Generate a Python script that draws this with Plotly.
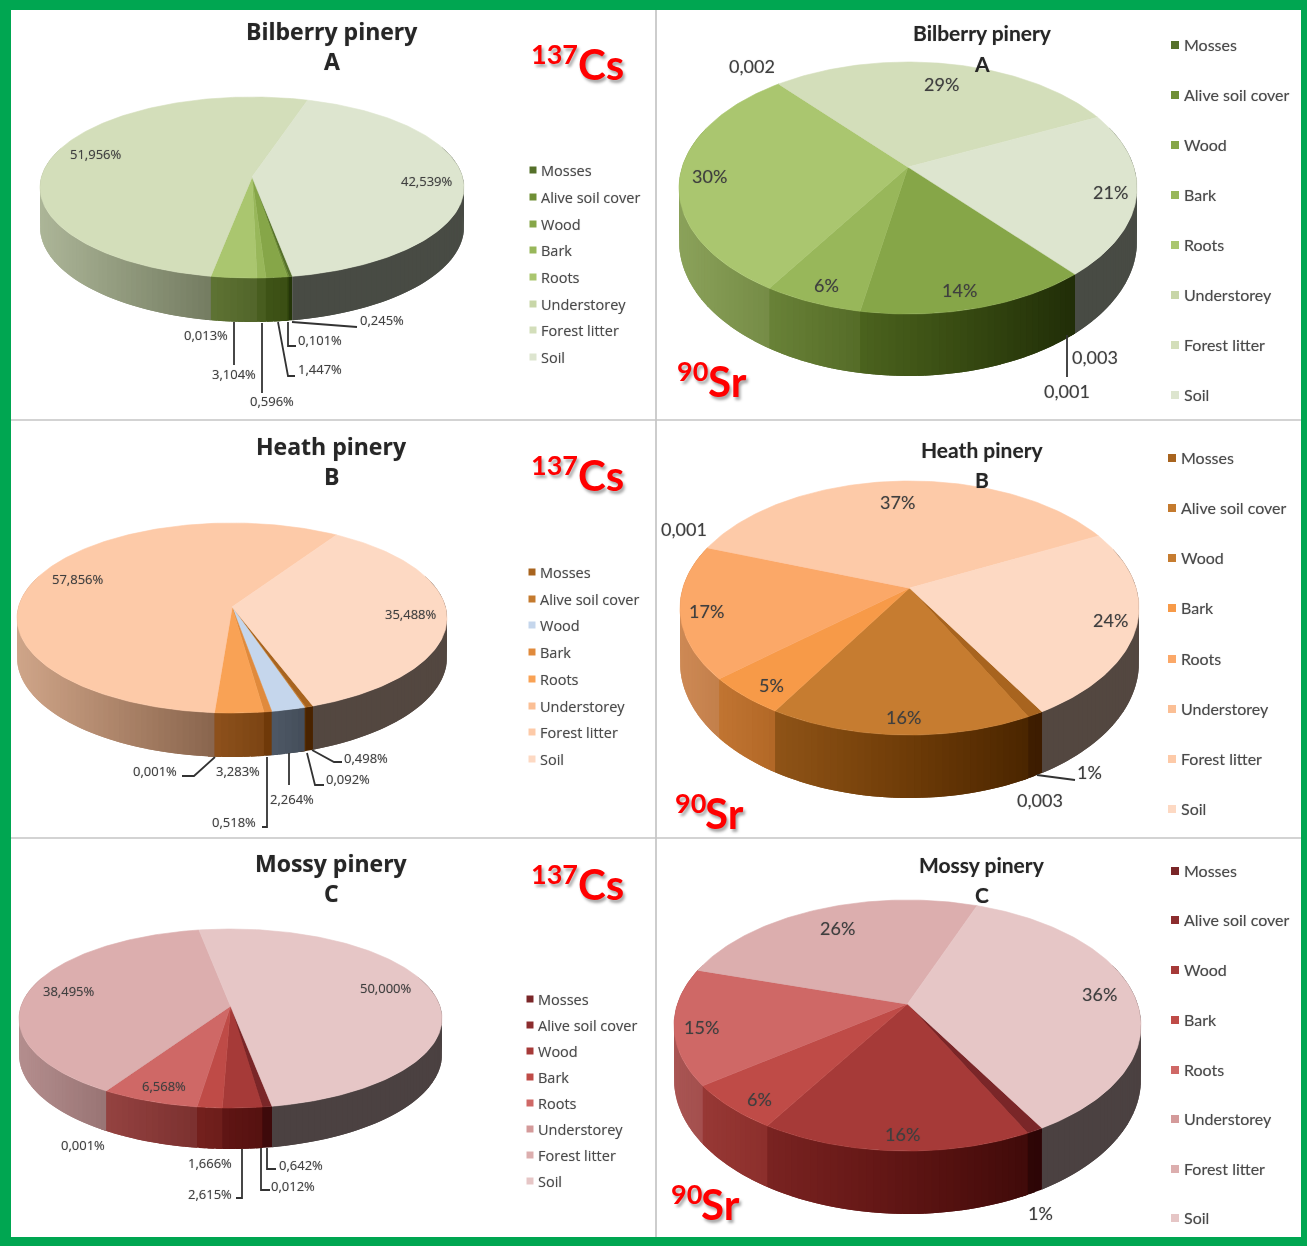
import numpy as np
import plotly.graph_objects as go

categories = ["Mosses", "Alive soil cover", "Wood", "Bark", "Roots", "Understorey", "Forest litter", "Soil"]

# Shares in percent, in category order
bilberry_cs = [0.245, 0.101, 1.447, 0.596, 3.104, 0.013, 51.956, 42.539]
bilberry_sr = [0.003, 0.001, 14, 6, 30, 0.002, 29, 21]
heath_cs = [0.498, 0.092, 2.264, 0.518, 3.283, 0.001, 57.856, 35.488]
heath_sr = [1, 0.003, 16, 5, 17, 0.001, 37, 24]
mossy_cs = [0.642, 0.012, 2.615, 1.666, 6.568, 0.001, 38.495, 50.000]
mossy_sr = [1, 0.001, 16, 6, 15, 0.001, 26, 36]

bilberry_cs_labels = ["0,245%", "0,101%", "1,447%", "0,596%", "3,104%", "0,013%", "51,956%", "42,539%"]
bilberry_sr_labels = ["0,003", "0,001", "14%", "6%", "30%", "0,002", "29%", "21%"]
heath_cs_labels = ["0,498%", "0,092%", "2,264%", "0,518%", "3,283%", "0,001%", "57,856%", "35,488%"]
heath_sr_labels = ["1%", "0,003", "16%", "5%", "17%", "0,001", "37%", "24%"]
mossy_cs_labels = ["0,642%", "0,012%", "2,615%", "1,666%", "6,568%", "0,001%", "38,495%", "50,000%"]
mossy_sr_labels = ["1%", "", "16%", "6%", "15%", "", "26%", "36%"]

GREEN = ["#55702a", "#6f8f35", "#86a648", "#98b75a", "#aac66f", "#c8d6a8", "#d3deba", "#dde5cf"]
ORANGE = ["#a8641f", "#c47a2e", "#c67c30", "#f79a48", "#fba868", "#fbbf95", "#fdcaa8", "#fdd9c3"]
ORANGE_B = ["#a8641f", "#c47a2e", "#c5d6ec", "#e08a3c", "#f9a255", "#fbbf95", "#fdcaa8", "#fdd9c3"]
RED = ["#7a2628", "#8c2d2e", "#a63a38", "#bf4b47", "#cf6866", "#d49a9a", "#dcaeae", "#e6c6c6"]

WIDE = "Open Sans, sans-serif"
SLIM = "Lato, sans-serif"
TXT = "#3f3f3f"
SHADOW = "0 0 1px rgba(60,60,60,.4)"

# Page layout of each panel: pie geometry, text positions, leader lines
panels = [
    dict(values=bilberry_cs, labels=bilberry_cs_labels, colors=GREEN, cx=252, rx=212, top=97, bottom=278, apex=177,
         depth=44, first_x=292.5, lab_xy=[(382, 320), (320, 340), (320, 369), (272, 401), (234, 374), (206, 335), (96, 154), (427, 181)],
         lab_size=13, font=WIDE, title=("Bilberry pinery", "A"), tx=332, ty=(31, 61), title_size=23,
         leg_x=533, leg_y=[170, 197, 224, 250, 277, 304, 330, 357], leg_size=14, iso="137", sym="Cs", iso_xy=(554, 53), sym_xy=(601, 64),
         leaders=[[(292, 322), (357, 327)], [(288, 322), (288, 346), (296, 346)], [(278, 322), (288, 376), (295, 376)],
                  [(262, 323), (262, 393)], [(234, 322), (234, 365)]]),
    dict(values=bilberry_sr, labels=bilberry_sr_labels, colors=GREEN, cx=908, rx=229, top=62, bottom=314, apex=167,
         depth=62, first_x=1075, lab_xy=[(1095, 357), (1067, 391), (959, 290), (826, 285), (709, 176), (752, 66), (941, 84), (1110, 192)],
         lab_size=18, font=SLIM, title=("Bilberry pinery", "A"), tx=982, ty=(32, 63), title_size=21,
         leg_x=1175, leg_y=[44, 94, 144, 194, 244, 294, 344, 394], leg_size=16, iso="90", sym="Sr", iso_xy=(692, 370), sym_xy=(727, 381),
         leaders=[[(1067, 335), (1067, 377)]]),
    dict(values=heath_cs, labels=heath_cs_labels, colors=ORANGE_B, cx=232, rx=215, top=523, bottom=713, apex=607,
         depth=44, first_x=313, lab_xy=[(366, 758), (348, 779), (292, 799), (234, 822), (238, 771), (155, 771), (78, 579), (411, 614)],
         lab_size=13, font=WIDE, title=("Heath pinery", "B"), tx=331, ty=(446, 476), title_size=23,
         leg_x=532, leg_y=[572, 599, 625, 652, 679, 706, 732, 759], leg_size=14, iso="137", sym="Cs", iso_xy=(554, 464), sym_xy=(601, 475),
         leaders=[[(312, 750), (334, 762), (342, 762)], [(307, 753), (315, 785), (324, 785)], [(289, 753), (289, 785)],
                  [(267, 757), (267, 827), (262, 827)], [(215, 757), (194, 776), (182, 776)]]),
    dict(values=heath_sr, labels=heath_sr_labels, colors=ORANGE, cx=909.5, rx=229.5, top=481, bottom=735, apex=588,
         depth=63, first_x=1042, lab_xy=[(1089, 772), (1040, 800), (903, 717), (771, 685), (706, 611), (684, 529), (897, 502), (1110, 620)],
         lab_size=18, font=SLIM, title=("Heath pinery", "B"), tx=982, ty=(449, 479), title_size=21,
         leg_x=1172, leg_y=[457, 507, 557, 607, 658, 708, 758, 808], leg_size=16, iso="90", sym="Sr", iso_xy=(690, 802), sym_xy=(724, 813),
         leaders=[[(1037, 775), (1075, 780)]]),
    dict(values=mossy_cs, labels=mossy_cs_labels, colors=RED, cx=230.5, rx=211.5, top=929, bottom=1108, apex=1006,
         depth=41, first_x=272, lab_xy=[(301, 1165), (293, 1186), (210, 1194), (210, 1163), (164, 1086), (83, 1145), (69, 991), (386, 988)],
         lab_size=13, font=WIDE, title=("Mossy pinery", "C"), tx=331, ty=(863, 893), title_size=23,
         leg_x=530, leg_y=[999, 1025, 1051, 1077, 1103, 1129, 1155, 1181], leg_size=14, iso="137", sym="Cs", iso_xy=(554, 873), sym_xy=(601, 884),
         leaders=[[(267, 1148), (267, 1169), (276, 1169)], [(261, 1148), (261, 1190), (270, 1190)], [(242, 1149), (242, 1198), (236, 1198)]]),
    dict(values=mossy_sr, labels=mossy_sr_labels, colors=RED, cx=907.5, rx=233.5, top=900, bottom=1151, apex=1004,
         depth=63, first_x=1042, lab_xy=[(1040, 1213), (0, 0), (902, 1134), (759, 1099), (701, 1027), (0, 0), (837, 928), (1099, 994)],
         lab_size=18, font=SLIM, title=("Mossy pinery", "C"), tx=982, ty=(864, 894), title_size=21,
         leg_x=1175, leg_y=[870, 919, 969, 1019, 1069, 1118, 1168, 1217], leg_size=16, iso="90", sym="Sr", iso_xy=(686, 1193), sym_xy=(720, 1204),
         leaders=[]),
]


def rgb(h):
    return np.array([int(h[i:i + 2], 16) for i in (1, 3, 5)], float)


def shade(h, f, boost=0.0):
    c = rgb(h) * f
    m = c.mean()
    c = np.clip(m + (c - m) * (1 + boost), 0, 255).astype(int)
    return f"rgb({c[0]},{c[1]},{c[2]})"


class Pose:
    """Perspective view of a flat disc: theta runs clockwise from 12 o'clock."""

    def __init__(self, p):
        d_top, d_bot = p["apex"] - p["top"], p["bottom"] - p["apex"]
        self.c = (d_bot - d_top) / (d_bot + d_top)
        self.a = d_top * (1 + self.c)
        self.k = p["rx"] * np.sqrt(1 - self.c ** 2)
        self.cx, self.ay, self.rx, self.depth = p["cx"], p["apex"], p["rx"], p["depth"]

    def rim(self, deg):
        th = np.radians(deg)
        u, v = np.sin(th), -np.cos(th)
        w = 1 - self.c * v
        return self.cx + self.k * u / w, self.ay + self.a * v / w, v, w

    def start(self, x):
        grid = np.linspace(90, 180, 3601)
        return grid[np.argmin(np.abs(self.rim(grid)[0] - x))]


fig = go.Figure()


def poly(xs, ys, color, line=True):
    fig.add_trace(go.Scatter(x=list(xs), y=list(ys), mode="lines" if line else "none", fill="toself", fillcolor=color,
                             line=dict(color=color, width=0.6), hoverinfo="skip", showlegend=False))


def text(x, y, s, size, font=SLIM, color=TXT, bold=False, anchor="center", sh=SHADOW):
    fig.add_annotation(x=x, y=y, xref="x", yref="y", text=f"<b>{s}</b>" if bold else s, showarrow=False,
                       xanchor=anchor, yanchor="middle", font=dict(family=font, size=size, color=color, shadow=sh))


for p in panels:
    pose = Pose(p)
    vals = np.array(p["values"], float)
    edges = pose.start(p["first_x"]) + np.concatenate([[0], np.cumsum(vals) / vals.sum() * 360])
    # side walls: strips overlap the next one so that no seams show
    for i, col in enumerate(p["colors"]):
        n = max(1, int((edges[i + 1] - edges[i]) / 1.5))
        th = np.linspace(edges[i], edges[i + 1], n + 1)
        for a, b in zip(th[:-1], th[1:]):
            far = b if i == 7 and b >= th[-1] - 1e-9 else b + 1.5
            x0, y0, v0, w0 = pose.rim(a)
            x1, y1, v1, w1 = pose.rim(far)
            if max(v0, v1) < -0.3:
                continue
            xm = pose.rim((a + b) / 2)[0]
            t = (xm - (pose.cx - pose.rx)) / (2 * pose.rx)
            if categories[i] == "Soil":
                f, boost = 0.33, 0.0
            else:
                f = max(0.82 - 0.68 * t, 0.24)
                boost = 1.2 * (0.82 - f)
            d0 = pose.depth * (1 - pose.c) / w0
            d1 = pose.depth * (1 - pose.c) / w1
            poly([x0, x1, x1, x0, x0], [y0, y1, y1 + d1, y0 + d0, y0], shade(col, f, boost), line=False)
    # top faces
    for i, col in enumerate(p["colors"]):
        n = max(2, int((edges[i + 1] - edges[i]) / 1.0))
        rx, ry, _, _ = pose.rim(np.linspace(edges[i], edges[i + 1], n + 1))
        poly(np.r_[pose.cx, rx, pose.cx], np.r_[pose.ay, ry, pose.ay], col)
    # leader lines
    for seg in p["leaders"]:
        xs, ys = zip(*seg)
        fig.add_trace(go.Scatter(x=xs, y=ys, mode="lines", line=dict(color="#333333", width=1.8),
                                 hoverinfo="skip", showlegend=False))
    # data labels
    for s, (x, y) in zip(p["labels"], p["lab_xy"]):
        if s:
            text(x, y, s, p["lab_size"], p["font"])
    # titles
    text(p["tx"], p["ty"][0], p["title"][0], p["title_size"], p["font"], "#262626", bold=True)
    text(p["tx"], p["ty"][1], p["title"][1], p["title_size"], p["font"], "#262626", bold=True)
    # legend
    left = p["leg_size"] < 15
    fig.add_trace(go.Scatter(x=[p["leg_x"]] * 8, y=[y + (1 if not left else 0) for y in p["leg_y"]], mode="markers",
                             marker=dict(symbol="square", size=7 if left else 8, color=p["colors"], line=dict(width=0)),
                             hovertext=categories, hoverinfo="text", showlegend=False))
    for s, y in zip(categories, p["leg_y"]):
        text(p["leg_x"] + (6 if left else 7), y, s, 14.5 if left else p["leg_size"], p["font"], "#4a4a4a", anchor="left")
    # isotope tag
    rs = "2px 3px 3px rgba(0,0,0,.35)"
    text(*p["iso_xy"], p["iso"], 27, "Lato", "#ff0000", True, sh=rs)
    text(*p["sym_xy"], p["sym"], 42, "Lato", "#ff0000", True, sh=rs)

BORDER = "#00a651"
shapes = [
    dict(type="rect", x0=0, x1=1307, y0=0, y1=10, fillcolor=BORDER, line_width=0, layer="above"),
    dict(type="rect", x0=0, x1=1307, y0=1237, y1=1246, fillcolor=BORDER, line_width=0, layer="above"),
    dict(type="rect", x0=0, x1=11, y0=0, y1=1246, fillcolor=BORDER, line_width=0, layer="above"),
    dict(type="rect", x0=1301, x1=1307, y0=0, y1=1246, fillcolor=BORDER, line_width=0, layer="above"),
    dict(type="line", x0=656, x1=656, y0=10, y1=1237, line=dict(color="#bdbdbd", width=1.5)),
    dict(type="line", x0=11, x1=1301, y0=420, y1=420, line=dict(color="#c4c4c4", width=1.5)),
    dict(type="line", x0=11, x1=1301, y0=838, y1=838, line=dict(color="#c4c4c4", width=1.5)),
]

fig.update_layout(width=1307, height=1246, margin=dict(l=0, r=0, t=0, b=0), plot_bgcolor="white", paper_bgcolor="white",
                  showlegend=False, shapes=shapes,
                  xaxis=dict(range=[0, 1307], visible=False, fixedrange=True),
                  yaxis=dict(range=[1246, 0], visible=False, fixedrange=True))

fig.write_html("out.html", config={"displayModeBar": False},
               post_script='document.body.style.margin="0";document.body.style.overflow="hidden";'
                           'document.querySelector(".js-plotly-plot").style.filter="blur(0.5px)";')
